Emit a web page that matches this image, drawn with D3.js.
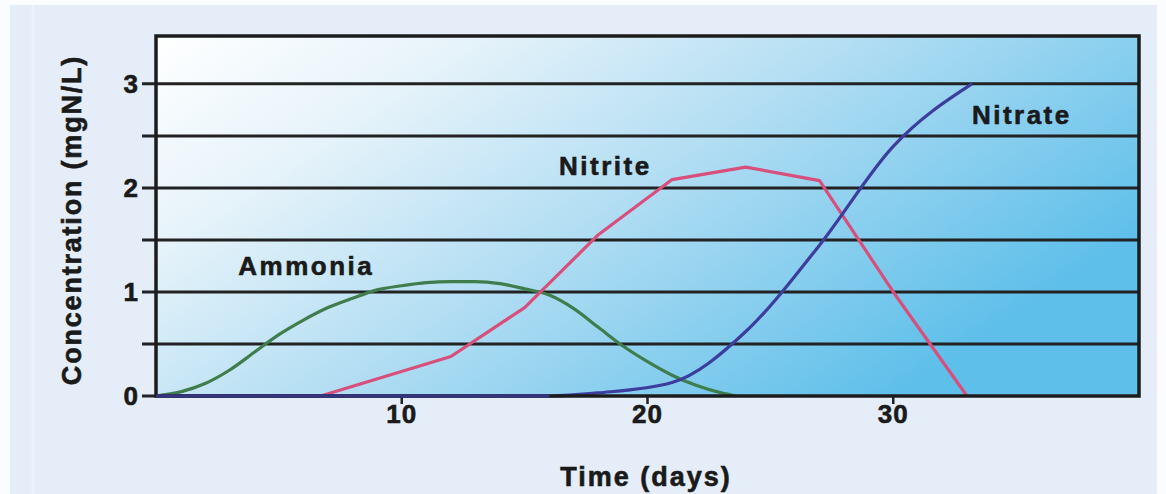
<!DOCTYPE html>
<html><head><meta charset="utf-8">
<script src="https://cdn.jsdelivr.net/npm/d3@7"></script>
<style>
html,body{margin:0;padding:0;background:#fbfcfe;}
svg{display:block;font-family:"Liberation Sans",Arial,Helvetica,sans-serif;}
text{stroke:#1a1a1a;stroke-width:0.6px;}
</style></head>
<body>
<svg id="c" width="1166" height="494"></svg>
<script>
// Data
const xTicks = [10, 20, 30];
const yTicks = [0, 1, 2, 3];
const gridValues = [0.5, 1, 1.5, 2, 2.5, 3];
const ammoniaDays = [0,1,2,3,4,5,6,7,8,9,10,11,12,13,14,15,16,17,18,19,20,21,22,23,23.6];
const ammoniaVals = [0,0.04,0.12,0.25,0.42,0.59,0.73,0.85,0.94,1.02,1.06,1.09,1.1,1.1,1.08,1.03,0.97,0.84,0.66,0.48,0.33,0.2,0.1,0.03,0];
const nitriteDays = [0,6.7,12,15,18,21,24,27,30,33];
const nitriteVals = [0,0,0.38,0.85,1.55,2.08,2.2,2.07,1.0,0];
const nitrateDays = [0,16,18,21,24,27,30,33.2];
const nitrateVals = [0,0,0.03,0.13,0.62,1.45,2.4,3.0];
const labels = [
  {text:"Ammonia", day:3.35, val:1.16},
  {text:"Nitrite", day:16.4, val:2.12},
  {text:"Nitrate", day:33.2, val:2.61}
];

const svg = d3.select("#c");
const m = {left:156, right:1139, top:36, bottom:396};

// page panel
svg.append("rect").attr("x",10).attr("y",5).attr("width",1147).attr("height",489).attr("fill","#e4edf8");
svg.append("line").attr("x1",33).attr("x2",33).attr("y1",5).attr("y2",494).attr("stroke","#edf3fb").attr("stroke-width",3);

const x = d3.scaleLinear().domain([0,40]).range([m.left, m.right]);
const y = d3.scaleLinear().domain([0,3.46]).range([m.bottom, m.top]);

const defs = svg.append("defs");
const g = defs.append("linearGradient").attr("id","bg").attr("x1","0").attr("y1","0").attr("x2","1").attr("y2","0.55");
g.append("stop").attr("offset","0").attr("stop-color","#ffffff");
g.append("stop").attr("offset","0.25").attr("stop-color","#e6f3fa");
g.append("stop").attr("offset","0.55").attr("stop-color","#b3def3");
g.append("stop").attr("offset","1").attr("stop-color","#5ebfea");

svg.append("rect").attr("x",m.left).attr("y",m.top).attr("width",m.right-m.left).attr("height",m.bottom-m.top).attr("fill","url(#bg)");

// gridlines (extend left as ticks)
svg.append("g").selectAll("line").data(gridValues).join("line")
  .attr("x1", m.left-14).attr("x2", m.right)
  .attr("y1", d=>y(d)).attr("y2", d=>y(d))
  .attr("stroke","#222").attr("stroke-width",3);

// x axis ticks
svg.append("g").selectAll("line").data(xTicks).join("line")
  .attr("x1", d=>x(d)).attr("x2", d=>x(d))
  .attr("y1", m.bottom).attr("y2", m.bottom+8)
  .attr("stroke","#222").attr("stroke-width",2.5);
svg.append("g").selectAll("text").data(xTicks).join("text")
  .attr("x", d=>x(d)).attr("y", m.bottom+27)
  .attr("text-anchor","middle").attr("font-size",26).attr("font-weight","bold").attr("letter-spacing",1).attr("fill","#1a1a1a")
  .text(d=>d);

// y tick labels
svg.append("g").selectAll("text").data(yTicks).join("text")
  .attr("x", 138).attr("y", d=>y(d)+9)
  .attr("text-anchor","end").attr("font-size",26).attr("font-weight","bold").attr("fill","#1a1a1a")
  .text(d=>d);
// y0 tick
svg.append("line").attr("x1",m.left-14).attr("x2",m.left).attr("y1",y(0)).attr("y2",y(0)).attr("stroke","#222").attr("stroke-width",3);

// axis titles
svg.append("text").attr("x",646).attr("y",486).attr("text-anchor","middle")
  .attr("font-size",27).attr("font-weight","bold").attr("letter-spacing",2).attr("fill","#1a1a1a").text("Time (days)");
svg.append("text").attr("transform","translate(81,220) rotate(-90)").attr("text-anchor","middle")
  .attr("font-size",27).attr("font-weight","bold").attr("letter-spacing",1.8).attr("fill","#1a1a1a").text("Concentration (mgN/L)");

// lines
const line = d3.line().x(d=>x(d[0])).y(d=>y(d[1]));
const smooth = d3.line().x(d=>x(d[0])).y(d=>y(d[1])).curve(d3.curveMonotoneX);
svg.append("path").datum(ammoniaDays.map((d,i)=>[d,ammoniaVals[i]]))
  .attr("d", smooth).attr("fill","none").attr("stroke","#3f7d4c").attr("stroke-width",3.2);
svg.append("path").datum(nitriteDays.map((d,i)=>[d,nitriteVals[i]]))
  .attr("d", line).attr("fill","none").attr("stroke","#d84f7b").attr("stroke-width",3.2).attr("stroke-linejoin","round");
svg.append("path").datum(nitrateDays.map((d,i)=>[d,nitrateVals[i]]))
  .attr("d", smooth).attr("fill","none").attr("stroke","#3c3d9c").attr("stroke-width",3.2);

// frame
svg.append("rect").attr("x",m.left).attr("y",m.top).attr("width",m.right-m.left).attr("height",m.bottom-m.top)
  .attr("fill","none").attr("stroke","#1c1c1c").attr("stroke-width",3.5);
// bottom axis drawn navy on left part where nitrate sits at zero
svg.append("path").datum(nitrateDays.slice(0,2).map((d,i)=>[d,nitrateVals[i]]))
  .attr("d", line).attr("fill","none").attr("stroke","#34357e").attr("stroke-width",3.5);

// labels
svg.append("g").selectAll("text").data(labels).join("text")
  .attr("x", d=>x(d.day)).attr("y", d=>y(d.val))
  .attr("font-size",26).attr("font-weight","bold").attr("letter-spacing",2.5).attr("fill","#1a1a1a")
  .text(d=>d.text);
</script>
</body></html>
